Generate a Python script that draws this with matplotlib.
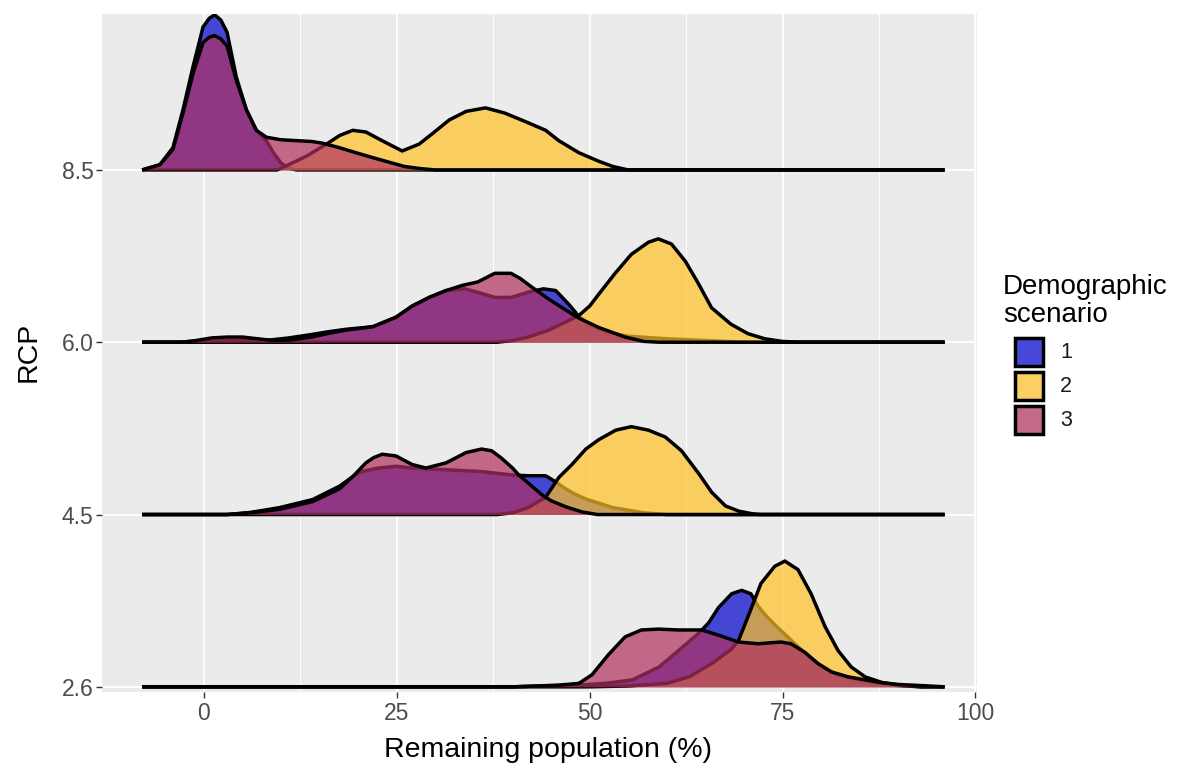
import matplotlib.pyplot as plt
from matplotlib.patches import Rectangle

plt.rcParams['font.family'] = ['Liberation Sans', 'DejaVu Sans']

# ---- data (x = remaining population %, d = ridge height, 1 = gap between ridges)
rcp_labels = ['2.6', '4.5', '6.0', '8.5']
scenario_labels = ['1', '2', '3']
fill_colors = ['#0000CD', '#FFC125', '#B03060']

# RCP 8.5
x_85_1 = [-8, -5.7, -4, -2.7, -1.4, -0.1, 0.7, 1.4, 2.2, 3, 4.2, 5.5, 6.8, 8.1, 9, 10, 11, 12, 96]
d_85_1 = [0, 0.03, 0.13, 0.35, 0.60, 0.83, 0.88, 0.90, 0.87, 0.80, 0.54, 0.35, 0.23, 0.17, 0.10,
          0.04, 0.01, 0, 0]
x_85_2 = [-8, 9.5, 11, 13.3, 15.9, 17.6, 19.3, 21, 23.1, 25.7, 27.9, 29.6, 31.8, 34, 36.5, 39,
          41.7, 44.3, 46, 48.6, 51.2, 53, 55, 96]
d_85_2 = [0, 0, 0.03, 0.08, 0.15, 0.20, 0.23, 0.22, 0.17, 0.11, 0.15, 0.21, 0.29, 0.34, 0.36, 0.33,
          0.28, 0.23, 0.17, 0.10, 0.05, 0.02, 0, 0]
x_85_3 = [-8, -5.7, -4, -2.7, -1.4, -0.1, 0.7, 1.4, 2.2, 3, 4.2, 5.5, 6.8, 8.1, 10, 12, 14, 15.4,
          17.5, 19.7, 22, 24, 26, 28, 30, 96]
d_85_3 = [0, 0.03, 0.12, 0.33, 0.56, 0.74, 0.77, 0.78, 0.76, 0.72, 0.52, 0.35, 0.23, 0.19, 0.175,
          0.17, 0.165, 0.155, 0.13, 0.10, 0.07, 0.045, 0.02, 0.008, 0, 0]

# RCP 6.0
x_60_1 = [-8, -2, 0, 4, 8, 11, 14, 16, 18.4, 21.9, 24.9, 27, 29.2, 31.4, 33.8, 35.5, 37.7, 39.8,
          42, 44, 45.6, 47.3, 48.6, 50, 52, 55, 60, 65, 70, 96]
d_60_1 = [0, 0, 0.005, 0.01, 0.01, 0.025, 0.045, 0.06, 0.075, 0.09, 0.145, 0.21, 0.26, 0.30, 0.31,
          0.29, 0.26, 0.26, 0.29, 0.31, 0.30, 0.22, 0.15, 0.10, 0.06, 0.035, 0.02, 0.01, 0, 0]
x_60_2 = [-8, 38, 40, 42, 44.7, 47.7, 48.6, 50, 51.2, 53.3, 55.4, 57.6, 58.9, 60.6, 62.4, 64.1,
          65.8, 68.3, 70.5, 72.7, 74.9, 77, 96]
d_60_2 = [0, 0, 0.01, 0.03, 0.07, 0.135, 0.155, 0.21, 0.28, 0.40, 0.51, 0.58, 0.60, 0.57, 0.47,
          0.34, 0.20, 0.105, 0.05, 0.02, 0.005, 0, 0]
x_60_3 = [-8, -3, -1, 1, 3, 5, 7, 9, 11, 14, 16, 18.4, 21.9, 24.9, 27, 29.2, 31.4, 33.5, 35.5,
          37.7, 39.8, 41, 42.5, 44.7, 46.8, 48.6, 51.2, 54.6, 57, 59, 96]
d_60_3 = [0, 0, 0.01, 0.025, 0.03, 0.03, 0.02, 0.01, 0.012, 0.03, 0.05, 0.07, 0.09, 0.145, 0.21,
          0.26, 0.30, 0.33, 0.35, 0.40, 0.40, 0.37, 0.32, 0.25, 0.19, 0.14, 0.085, 0.03, 0.005, 0, 0]

# RCP 4.5
x_45_1 = [-8, 3, 6, 9.8, 14.1, 17.6, 19.3, 20.5, 22.6, 24.9, 27, 31.4, 35.7, 40, 42, 44.3, 45.6,
          46.5, 48, 49.5, 53, 57, 60, 96]
d_45_1 = [0, 0, 0.012, 0.04, 0.087, 0.165, 0.22, 0.25, 0.27, 0.28, 0.27, 0.26, 0.25, 0.23, 0.225,
          0.225, 0.19, 0.16, 0.12, 0.09, 0.04, 0.01, 0, 0]
x_45_2 = [-8, 38, 40, 42, 44.3, 46, 47.7, 49.5, 51.2, 53.4, 55.4, 57.6, 59.8, 61.9, 64.1, 65.8,
          67.6, 69.3, 71, 72, 96]
d_45_2 = [0, 0, 0.01, 0.04, 0.10, 0.215, 0.29, 0.38, 0.435, 0.49, 0.51, 0.49, 0.45, 0.37, 0.24,
          0.13, 0.05, 0.02, 0.005, 0, 0]
x_45_3 = [-8, 3, 6, 9.8, 14.1, 17.6, 19.3, 21, 22, 23.1, 24.9, 27, 28.8, 31.4, 34, 36, 37.3, 38.5,
          40, 40.8, 42.5, 43.8, 45, 46.9, 49, 51, 96]
d_45_3 = [0, 0, 0.01, 0.03, 0.075, 0.15, 0.22, 0.30, 0.33, 0.35, 0.34, 0.29, 0.27, 0.30, 0.36,
          0.38, 0.37, 0.33, 0.27, 0.23, 0.165, 0.115, 0.08, 0.045, 0.015, 0, 0]

# RCP 2.6
x_26_1 = [-8, 40, 44, 48.6, 52, 55.5, 59, 61.5, 64.1, 65.4, 66.7, 68.4, 69.7, 70.9, 71.8, 72.7,
          74, 76.6, 79, 82, 85, 89, 93, 96]
d_26_1 = [0, 0, 0.005, 0.01, 0.02, 0.04, 0.115, 0.21, 0.31, 0.37, 0.46, 0.54, 0.56, 0.54, 0.47,
          0.42, 0.36, 0.25, 0.15, 0.07, 0.03, 0.01, 0, 0]
x_26_2 = [-8, 50, 55, 60, 63, 66, 68.4, 69.3, 70.9, 72.2, 74, 75.3, 77, 78.7, 80.5, 82.2, 83.9,
          85.7, 87.9, 90, 93, 96]
d_26_2 = [0, 0, 0.005, 0.02, 0.06, 0.14, 0.22, 0.27, 0.45, 0.60, 0.70, 0.73, 0.68, 0.54, 0.35,
          0.21, 0.115, 0.058, 0.025, 0.01, 0, 0]
x_26_3 = [-8, 40, 43, 46, 48.6, 50.3, 52.5, 54.6, 56.7, 58.9, 61.5, 64.5, 66.7, 69.3, 71.8, 74.8,
          76.1, 77.9, 79.6, 81.3, 83.5, 85.7, 87.7, 90, 94, 96]
d_26_3 = [0, 0, 0.005, 0.01, 0.02, 0.07, 0.19, 0.29, 0.33, 0.335, 0.33, 0.33, 0.30, 0.26, 0.25,
          0.26, 0.25, 0.20, 0.135, 0.087, 0.058, 0.04, 0.025, 0.014, 0.005, 0]

ridges = [
    [(x_26_1, d_26_1), (x_26_2, d_26_2), (x_26_3, d_26_3)],
    [(x_45_1, d_45_1), (x_45_2, d_45_2), (x_45_3, d_45_3)],
    [(x_60_1, d_60_1), (x_60_2, d_60_2), (x_60_3, d_60_3)],
    [(x_85_1, d_85_1), (x_85_2, d_85_2), (x_85_3, d_85_3)],
]

W, H = 1200, 767
fig = plt.figure(figsize=(W / 100, H / 100), dpi=100)
ax = fig.add_axes([102 / W, 1 - 692 / H, 875 / W, 678 / H])
ax.set_facecolor('#EBEBEB')

# grid
for v in [12.5, 37.5, 62.5, 87.5]:
    ax.axvline(v, color='white', lw=0.7, zorder=0)
for v in [0, 25, 50, 75, 100]:
    ax.axvline(v, color='white', lw=1.3, zorder=0)
for i in range(len(rcp_labels)):
    ax.axhline(i, color='white', lw=1.3, zorder=0)

# ridges: top row first so lower rows sit on top
z = 1
for i in reversed(range(len(ridges))):
    for (xs, ds), col in zip(ridges[i], fill_colors):
        top = [i + d for d in ds]
        ax.fill_between(xs, i, top, color=col, alpha=0.7, lw=0, zorder=z)
        ax.plot(xs, top, color='black', lw=2.5, solid_joinstyle='round',
                solid_capstyle='butt', zorder=z + 0.5)
        z += 1

ax.set_xlim(-13.2, 100.2)
ax.set_ylim(-0.03, 3.905)
ax.set_xticks([0, 25, 50, 75, 100])
ax.set_yticks(range(len(rcp_labels)))
ax.set_yticklabels(rcp_labels)
ax.tick_params(colors='#333333', labelcolor='#4D4D4D', labelsize=16.5, length=4, width=1)
ax.tick_params(axis='x', pad=3)
ax.tick_params(axis='y', pad=2)
for s in ax.spines.values():
    s.set_visible(False)

fig.text(548 / W, 1 - 750 / H, 'Remaining population (%)', ha='center', va='center',
         fontsize=20.5, color='black')
fig.text(29 / W, 1 - 352 / H, 'RCP', ha='center', va='center', rotation=90,
         fontsize=20.5, color='black')

# legend
fig.text(1003 / W, 1 - 301 / H, 'Demographic\nscenario', ha='left', va='center',
         fontsize=20, linespacing=1.1, color='black')
for k, (lab, col) in enumerate(zip(scenario_labels, fill_colors)):
    cy = 352 + 34 * k
    fig.add_artist(Rectangle((1013 / W, 1 - (cy + 16) / H), 32 / W, 32 / H,
                             transform=fig.transFigure, facecolor='#F2F2F2',
                             edgecolor='none'))
    fig.add_artist(Rectangle((1015 / W, 1 - (cy + 14) / H), 28 / W, 28 / H,
                             transform=fig.transFigure, facecolor=col, alpha=0.7,
                             edgecolor='none'))
    fig.add_artist(Rectangle((1015 / W, 1 - (cy + 14) / H), 28 / W, 28 / H,
                             transform=fig.transFigure, facecolor='none',
                             edgecolor='black', lw=2.5))
    fig.text(1060 / W, 1 - cy / H, lab, ha='left', va='center', fontsize=15.5,
             color='#1A1A1A')

fig.savefig('out.png', dpi=100)
